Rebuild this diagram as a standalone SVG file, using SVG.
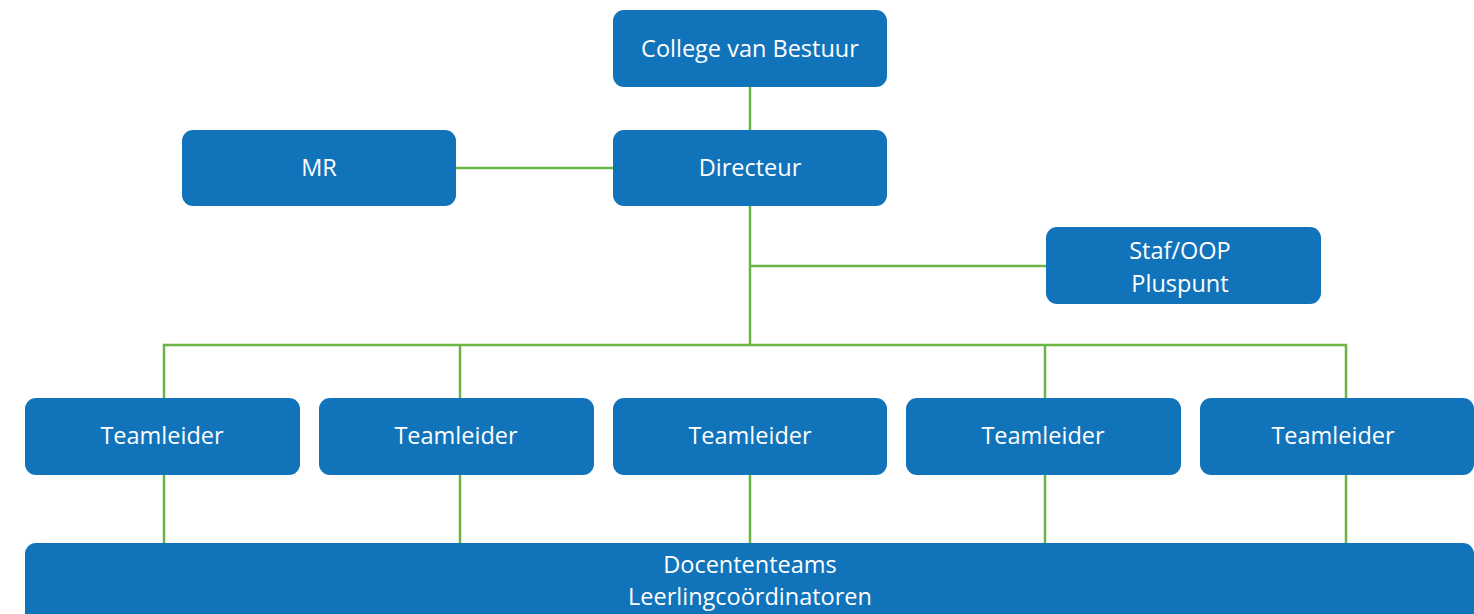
<svg xmlns="http://www.w3.org/2000/svg" width="1474" height="614" viewBox="0 0 1474 614">
<style>
.box{fill:#1174bb;}
.lbl{fill:#ffffff;font-family:"Open Sans","Noto Sans",sans-serif;font-size:23.5px;text-anchor:middle;}
.conn{stroke:#6db446;stroke-width:2.5;fill:none;}
</style>
<rect width="1474" height="614" fill="#ffffff"/>
<g id="connectors">
<path class="conn" d="M750 87V130"/>
<path class="conn" d="M456 168H613"/>
<path class="conn" d="M750 206V345"/>
<path class="conn" d="M750 266H1046"/>
<path class="conn" d="M164 398V345H1346V398"/>
<path class="conn" d="M460 345V398M1045 345V398"/>
<path class="conn" d="M164 475V543M460 475V543M750 475V543M1045 475V543M1346 475V543"/>
</g>
<g id="college"><rect class="box" x="613" y="10" width="274" height="77" rx="11"/><text class="lbl" x="750" y="57">College van Bestuur</text></g>
<g id="directeur"><rect class="box" x="613" y="130" width="274" height="76" rx="11"/><text class="lbl" x="750" y="176">Directeur</text></g>
<g id="mr"><rect class="box" x="182" y="130" width="274" height="76" rx="11"/><text class="lbl" x="319" y="176">MR</text></g>
<g id="staf"><rect class="box" x="1046" y="227" width="275" height="77" rx="11"/><text class="lbl" x="1180" y="259">Staf/OOP</text><text class="lbl" x="1180" y="292">Pluspunt</text></g>
<g id="teamleider1"><rect class="box" x="25" y="398" width="275" height="77" rx="11"/><text class="lbl" x="162" y="444">Teamleider</text></g>
<g id="teamleider2"><rect class="box" x="319" y="398" width="275" height="77" rx="11"/><text class="lbl" x="456" y="444">Teamleider</text></g>
<g id="teamleider3"><rect class="box" x="613" y="398" width="274" height="77" rx="11"/><text class="lbl" x="750" y="444">Teamleider</text></g>
<g id="teamleider4"><rect class="box" x="906" y="398" width="275" height="77" rx="11"/><text class="lbl" x="1043" y="444">Teamleider</text></g>
<g id="teamleider5"><rect class="box" x="1200" y="398" width="274" height="77" rx="11"/><text class="lbl" x="1333" y="444">Teamleider</text></g>
<g id="docententeams"><rect class="box" x="25" y="543" width="1449" height="90" rx="11"/><text class="lbl" x="750" y="573">Docententeams</text><text class="lbl" x="750" y="605">Leerlingcoördinatoren</text></g>
</svg>
